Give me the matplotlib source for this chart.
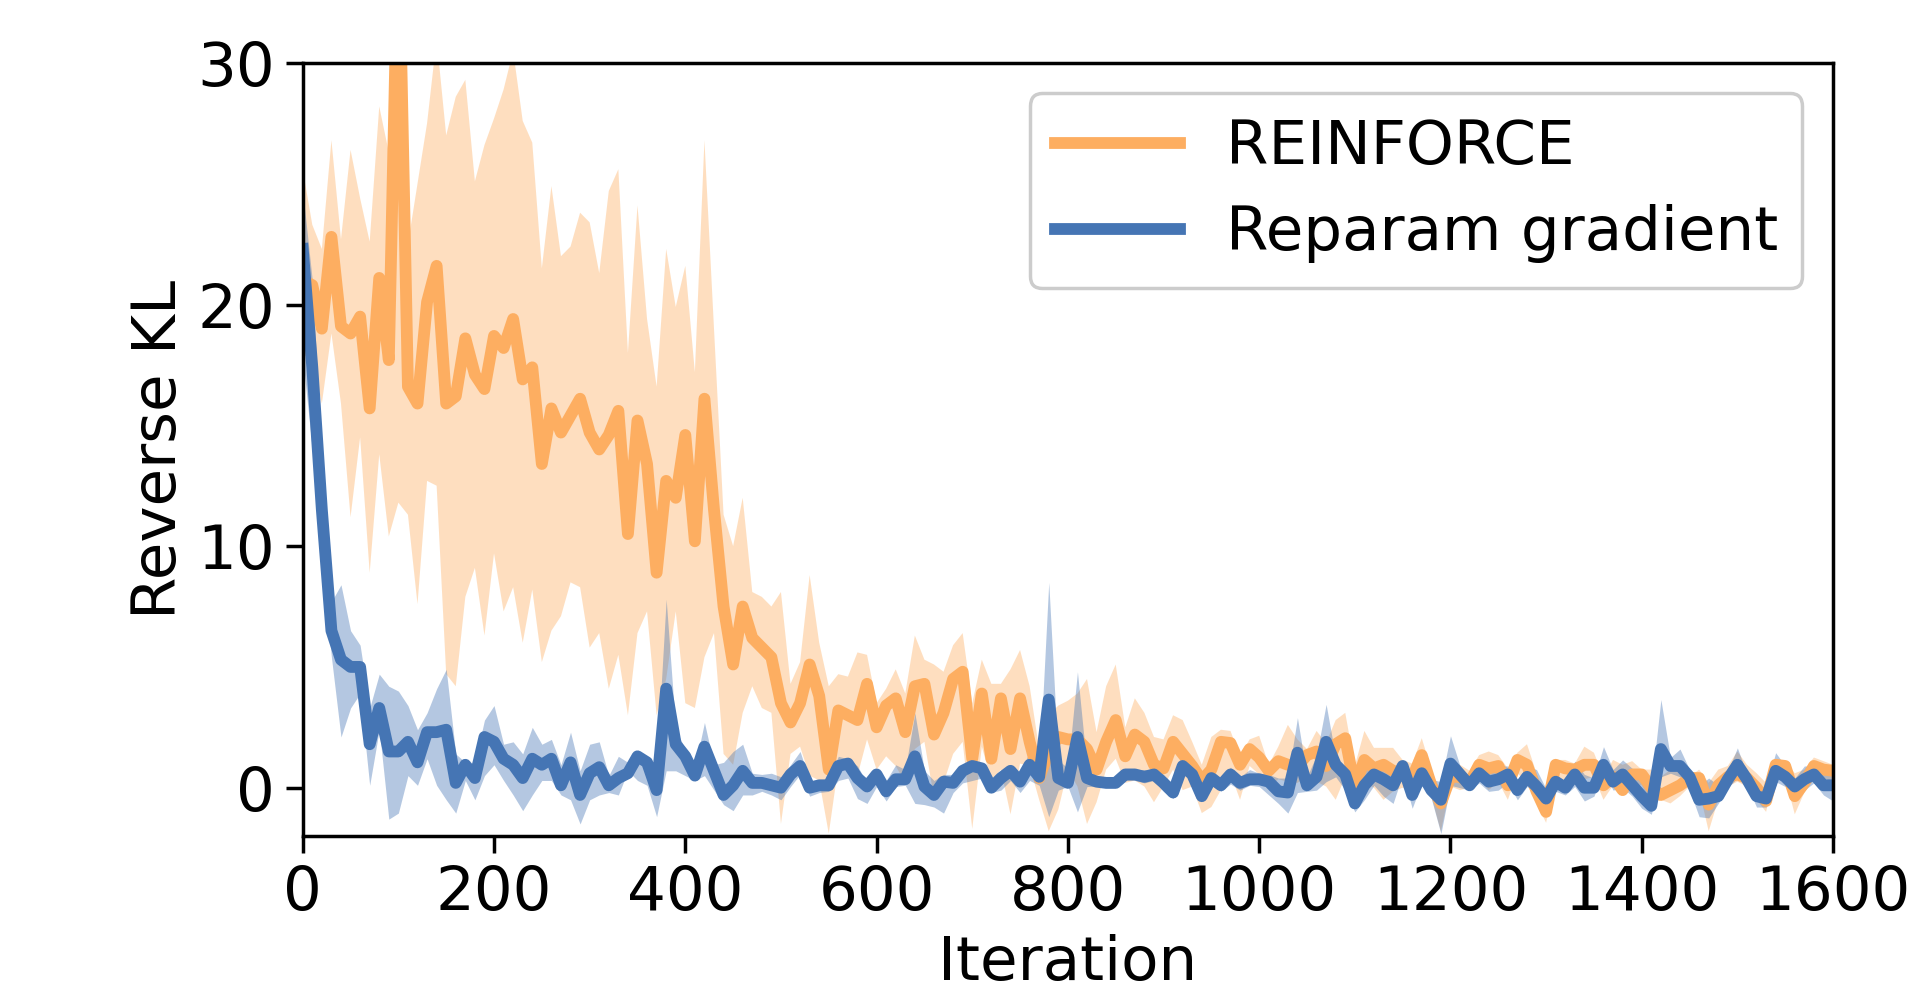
import numpy as np
import matplotlib
matplotlib.use("Agg")
import matplotlib.pyplot as plt

iterations = np.arange(0, 1601, 10)

reinforce_mean = [
    21.0, 20.8, 19.0, 22.8, 19.1, 18.8, 19.5, 15.7, 21.1, 17.7,
    36.0, 16.6, 15.9, 20.1, 21.6, 15.9, 16.2, 18.6, 17.1, 16.5,
    18.7, 18.2, 19.4, 16.9, 17.4, 13.4, 15.7, 14.7, 15.4, 16.1,
    14.7, 14.0, 14.6, 15.6, 10.5, 15.2, 13.4, 8.9, 12.7, 12.0,
    14.6, 10.2, 16.1, 11.5, 7.5, 5.1, 7.5, 6.2, 5.8, 5.4,
    3.5, 2.7, 3.5, 5.1, 3.8, 0.75, 3.2, 3.0, 2.8, 4.3,
    2.5, 3.4, 3.7, 2.3, 4.2, 4.3, 2.2, 3.1, 4.5, 4.8,
    1.2, 3.9, 1.2, 3.7, 1.6, 3.7, 1.9, 0.4, 1.5, 2.1,
    2.0, 2.0, 1.6, 0.75, 1.9, 2.8, 1.3, 2.2, 1.9, 0.95,
    0.8, 1.9, 1.4, 0.9, 0.3, 0.75, 1.9, 1.85, 0.95, 1.6,
    1.25, 0.7, 1.1, 0.95, 0.9, 1.35, 1.5, 0.9, 1.8, 2.05,
    0.0, 1.15, 0.8, 0.95, 0.7, 0.6, 0.4, 1.35, 0.1, -0.65,
    0.45, 0.45, 0.2, 0.95, 0.8, 0.9, 0.1, 1.15, 0.95, -0.15,
    -1.0, 0.95, 0.8, 0.75, 0.95, 0.95, 0.1, 0.45, -0.1, 0.55,
    0.55, 0.0, -0.3, -0.1, 0.1, 0.4, 0.4, -0.7, 0.1, 0.45,
    0.55, 0.4, 0.0, -0.55, 0.95, 0.9, -0.35, 0.2, 0.9, 0.75,
    0.7,
]
reinforce_upper = [
    25.6, 23.3, 22.3, 26.8, 22.7, 26.4, 24.4, 22.6, 28.2, 26.3,
    45.0, 22.5, 25.0, 27.5, 31.0, 27.0, 28.6, 29.3, 25.1, 26.6,
    27.7, 28.9, 30.5, 27.6, 26.7, 21.5, 24.9, 22.0, 22.4, 23.8,
    23.4, 21.3, 24.7, 25.6, 18.0, 24.1, 19.4, 16.6, 22.3, 19.9,
    21.6, 17.2, 26.8, 19.0, 11.3, 10.0, 12.0, 8.1, 7.9, 7.5,
    8.1, 4.3, 5.2, 8.8, 6.0, 4.2, 4.7, 4.6, 5.6, 5.5,
    3.5, 4.1, 4.9, 3.9, 6.3, 5.3, 5.1, 4.8, 5.9, 6.4,
    3.5, 5.3, 4.3, 4.3, 4.9, 5.7, 4.2, 1.6, 3.0, 3.4,
    3.6, 3.9, 4.5, 2.3, 4.2, 5.1, 2.5, 3.7, 3.1, 2.1,
    2.0, 3.0, 2.8, 1.9, 0.95, 2.1, 2.4, 2.35, 1.3, 2.0,
    2.15, 0.95, 1.7, 2.6, 2.0, 1.6, 2.35, 1.85, 2.8, 3.1,
    0.9, 2.35, 1.65, 1.65, 1.65, 1.15, 1.0, 2.05, 0.75, -0.2,
    1.0, 0.95, 0.7, 1.35, 1.5, 1.35, 0.8, 1.45, 1.8, 0.6,
    -0.4, 1.15, 1.15, 1.0, 1.7, 1.45, 0.45, 1.15, 0.95, 1.1,
    0.75, 0.75, 0.45, 0.75, 0.7, 0.45, 0.75, 0.2, 0.75, 0.9,
    1.5, 0.95, 0.6, 0.2, 1.15, 1.1, 0.6, 0.75, 1.25, 1.1,
    0.95,
]
reinforce_lower = [
    17.9, 17.8, 15.9, 18.8, 15.9, 11.2, 14.5, 8.9, 13.8, 10.4,
    11.8, 11.3, 7.6, 12.7, 12.5, 4.7, 4.2, 7.9, 9.1, 6.3,
    9.7, 7.3, 8.3, 6.0, 8.2, 5.2, 6.5, 7.1, 8.5, 8.3,
    5.8, 6.4, 4.1, 5.5, 3.0, 6.4, 7.3, 3.0, 4.5, 7.3,
    3.5, 3.3, 5.4, 6.4, 1.4, 0.95, 3.1, 4.2, 3.3, 3.1,
    -1.5, 1.4, 1.7, 0.5, 0.3, -1.9, 0.9, 1.0, 0.5, 2.0,
    0.75, 1.3, 0.9, 0.2, 1.6, 1.9, -0.4, 0.2, 1.4, 1.9,
    -1.7, 1.7, 0.3, 0.75, -1.1, 1.0, 0.9, -0.5, -1.8, -0.9,
    0.75, 0.05, -1.5, -0.6, 0.75, 1.2, 0.2, 0.3, 0.05, -0.6,
    0.05, 0.75, -0.1, 0.05, -1.05, -0.8, -0.1, 0.6, -0.5, 0.9,
    0.55, 0.0, 0.35, 0.25, 0.2, 0.45, 0.25, 0.05, -0.5, 0.45,
    -0.5, 0.2, 0.0, -0.5, -0.15, 0.0, -0.1, 0.2, -0.35, -1.8,
    0.05, -0.1, 0.0, 0.35, -0.1, 0.25, -0.5, 0.6, 0.2, -0.65,
    -1.45, 0.45, 0.25, 0.4, 0.35, 0.45, -0.5, 0.1, -0.2, 0.2,
    0.1, -0.65, -0.5, -0.65, -0.35, 0.05, -0.1, -1.8, -0.5, 0.05,
    0.25, 0.05, -0.5, -1.0, 0.7, 0.4, -1.1, -0.2, 0.35, 0.4,
    0.25,
]

reparam_mean = [
    22.3, 17.4, 11.5, 6.5, 5.3, 5.0, 5.0, 1.8, 3.3, 1.5,
    1.5, 1.9, 1.05, 2.3, 2.3, 2.4, 0.2, 0.95, 0.4, 2.1,
    1.9, 1.2, 0.95, 0.4, 1.2, 0.95, 1.2, 0.1, 1.05, -0.3,
    0.6, 0.85, 0.1, 0.4, 0.6, 1.3, 1.05, -0.1, 4.1, 1.8,
    1.3, 0.5, 1.7, 0.7, -0.3, 0.1, 0.7, 0.2, 0.2, 0.1,
    0.0, 0.55, 0.9, 0.0, 0.1, 0.1, 0.9, 1.0, 0.4, 0.05,
    0.55, -0.15, 0.35, 0.35, 1.3, 0.05, -0.3, 0.25, 0.2, 0.7,
    0.9, 0.8, 0.0, 0.4, 0.7, 0.25, 0.95, 0.45, 3.65, 0.4,
    0.2, 2.1, 0.4, 0.25, 0.2, 0.2, 0.55, 0.55, 0.45, 0.55,
    0.2, -0.2, 0.9, 0.55, -0.35, 0.4, 0.1, 0.55, 0.2, 0.35,
    0.35, 0.25, -0.15, -0.2, 1.45, 0.1, 0.45, 1.9, 0.95, 0.55,
    -0.65, 0.1, 0.55, 0.35, 0.1, 0.9, -0.3, 0.6, -0.1, -0.5,
    1.0, 0.55, 0.1, 0.6, 0.25, 0.35, 0.55, -0.1, 0.45, 0.05,
    -0.45, 0.25, 0.0, 0.55, 0.0, 0.0, 0.95, 0.25, 0.55, 0.1,
    -0.35, -0.75, 1.6, 0.9, 0.9, 0.45, -0.5, -0.45, -0.35, 0.35,
    0.95, 0.35, -0.35, -0.45, 0.7, 0.45, 0.05, 0.35, 0.55, 0.1,
    0.1,
]
reparam_upper = [
    24.7, 21.0, 13.6, 7.7, 8.4, 6.5, 5.9, 3.3, 4.7, 4.2,
    4.0, 3.4, 2.4, 3.1, 4.1, 4.9, 1.4, 1.05, 1.05, 2.8,
    3.4, 1.8, 1.9, 1.4, 2.5, 1.8, 2.0, 0.95, 2.3, 0.7,
    1.8, 1.9, 0.5, 1.3, 1.05, 1.5, 1.2, 0.95, 7.8, 2.4,
    1.6, 0.85, 2.7, 0.95, 1.05, 1.5, 1.8, 0.6, 0.55, 0.6,
    0.45, 0.95, 1.5, 0.3, 0.3, 0.4, 1.3, 1.2, 0.9, 0.2,
    0.55, 0.3, 0.95, 0.75, 3.1, 0.7, 0.3, 0.55, 0.55, 0.95,
    1.1, 0.95, 0.3, 0.7, 0.9, 0.6, 1.5, 0.75, 8.5, 1.15,
    0.8, 4.8, 0.8, 0.3, 0.4, 0.4, 0.75, 0.75, 0.75, 0.75,
    0.55, 0.05, 1.1, 0.75, -0.1, 0.75, 0.4, 0.85, 0.45, 0.75,
    0.6, 0.55, 0.4, 0.4, 2.9, 0.45, 1.35, 3.45, 1.25, 0.8,
    -0.1, 0.7, 0.9, 0.9, 0.45, 1.15, 0.55, 0.9, 0.35, 0.25,
    2.15, 0.9, 0.45, 0.95, 0.6, 0.9, 0.9, 0.25, 0.9, 0.75,
    -0.05, 0.55, 0.25, 1.1, 0.55, 0.4, 1.7, 0.75, 1.15, 0.8,
    0.45, 0.05, 3.65, 1.25, 1.6, 0.75, 0.1, 0.4, 0.1, 0.7,
    1.65, 0.55, -0.15, 0.05, 1.45, 0.9, 0.4, 0.9, 0.9, 0.7,
    0.45,
]
reparam_lower = [
    17.8, 14.0, 9.4, 5.4, 2.1, 3.3, 3.9, 0.1, 2.4, -1.3,
    -1.05, 0.5, 0.1, 1.2, 0.1, -0.5, -1.05, 0.3, -0.5, 0.5,
    0.95, 0.3, -0.3, -0.95, -0.3, 0.3, 0.3, -0.3, -0.5, -1.5,
    -0.5, -0.3, -0.2, -0.3, 0.7, 0.3, 0.1, -1.2, 0.7, 0.7,
    0.5, 0.3, 0.5, -0.1, -0.7, -0.95, -0.3, -0.3, -0.15, -0.3,
    -0.5, 0.05, 0.55, -0.35, -0.2, -0.15, 0.3, 0.4, -0.45, -0.65,
    0.05, -0.55, 0.05, 0.1, -0.65, -0.7, -0.8, -1.05, -0.2, 0.2,
    0.3, 0.4, -0.2, -0.1, 0.3, -0.2, 0.3, 0.1, -1.2, -0.1,
    0.05, -1.0, 0.05, 0.05, 0.0, 0.0, 0.3, 0.3, 0.2, 0.3,
    -0.15, -0.45, 0.75, 0.3, -0.55, 0.1, -0.15, 0.15, -0.1, 0.1,
    0.05, -0.3, -0.65, -1.05, -0.2, -0.15, -0.1, 0.25, 0.45, -0.1,
    -1.0, -0.5, 0.1, -0.35, -0.65, 0.55, -0.85, 0.2, -0.45, -1.9,
    0.1, 0.0, -0.1, 0.2, -0.15, -0.1, 0.2, -0.5, 0.05, -0.3,
    -0.9, -0.15, -0.3, 0.05, -0.55, -0.35, 0.7, -0.1, 0.0, -0.35,
    -0.85, -1.1, 0.45, 0.6, 0.45, -0.1, -1.2, -1.25, -0.65, 0.0,
    0.4, 0.1, -0.8, -0.8, 0.25, 0.05, -0.35, -0.1, 0.2, -0.3,
    -0.55,
]

labels = ["REINFORCE", "Reparam gradient"]
orange = "#FDAE61"
blue = "#4575B4"

plt.rcParams['font.family'] = ['DejaVu Sans']

fig = plt.figure(figsize=(19.16, 9.83), dpi=100)
ax = fig.add_axes([0.158, 0.1495, 0.7987, 0.7865])

ax.fill_between(iterations, reinforce_lower, reinforce_upper, color=orange, alpha=0.4, linewidth=0)
ax.plot(iterations, reinforce_mean, color=orange, linewidth=8.5, label=labels[0])
ax.fill_between(iterations, reparam_lower, reparam_upper, color=blue, alpha=0.4, linewidth=0)
ax.plot(iterations, reparam_mean, color=blue, linewidth=8.5, label=labels[1])

ax.set_xlim(0, 1600)
ax.set_ylim(-2, 30)
ax.set_xticks([0, 200, 400, 600, 800, 1000, 1200, 1400, 1600])
ax.set_yticks([0, 10, 20, 30])
ax.tick_params(axis='both', labelsize=44, width=2.5, length=12, pad=8)
for s in ax.spines.values():
    s.set_linewidth(2.5)
ax.set_xlabel("Iteration", fontsize=44, labelpad=8)
ax.set_ylabel("Reverse KL", fontsize=44, labelpad=6)

leg = ax.legend(loc='upper right', fontsize=44, handlelength=2.05, handletextpad=0.75,
                borderaxespad=0.5, labelspacing=0.45, fancybox=True, framealpha=1.0,
                edgecolor='0.8', borderpad=0.4)
leg.get_frame().set_linewidth(2.5)

fig.savefig("out.png", dpi=100)
